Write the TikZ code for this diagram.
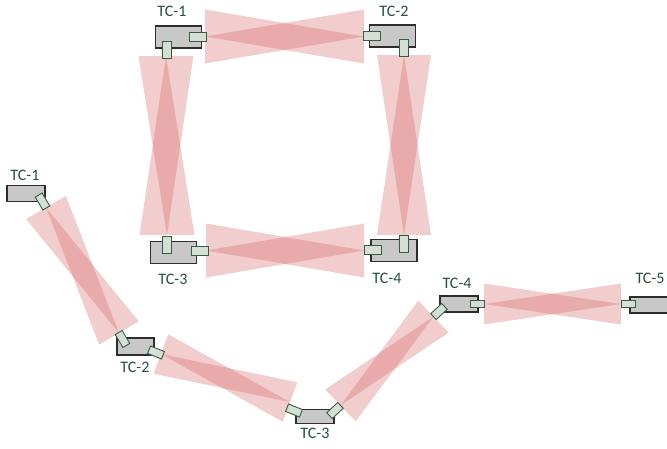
\documentclass[tikz,border=0pt]{standalone}
\usepackage{fontspec}
\setmainfont{Carlito}
\usetikzlibrary{calc}
\definecolor{beamc}{RGB}{210,90,90}
\definecolor{boxfill}{RGB}{200,200,200}
\definecolor{boxline}{RGB}{45,45,45}
\definecolor{tabfill}{RGB}{214,222,214}
\definecolor{tabline}{RGB}{50,95,65}
\definecolor{lblc}{RGB}{38,80,58}
\newcommand\beamlink[3]{%
 \fill[beam] (#1) -- ($(#2)!#3!90:(#1)$) -- ($(#2)!#3!-90:(#1)$) -- cycle;
 \fill[beam] (#2) -- ($(#1)!#3!90:(#2)$) -- ($(#1)!#3!-90:(#2)$) -- cycle;}
\begin{document}
\begin{tikzpicture}[x=1pt,y=-1pt,
  beam/.style={fill=beamc,fill opacity=0.3},
  dev/.style={draw=boxline,fill=boxfill,line width=1.1pt,inner sep=0pt,outer sep=0pt},
  tab/.style={draw=tabline,fill=tabfill,line width=0.9pt,inner sep=0pt,outer sep=0pt},
  htab/.style={tab,minimum width=17pt,minimum height=9pt},
  vtab/.style={tab,minimum width=9pt,minimum height=17pt},
  ctab/.style={tab,minimum width=15pt,minimum height=8pt},
  sqbox/.style={dev,minimum width=46pt,minimum height=22pt},
  chbox/.style={dev,minimum width=38pt,minimum height=16pt},
  lbl/.style={text=lblc,font=\fontsize{16}{18}\selectfont,inner sep=0pt}]
\useasboundingbox (0,0) rectangle (667,448);
% beam end points
\coordinate (a1) at (205,36.5);  \coordinate (b1) at (364,36.5);
\coordinate (a2) at (166,56);    \coordinate (b2) at (167,235);
\coordinate (a3) at (404,55);    \coordinate (b3) at (404,235);
\coordinate (a4) at (206,250.5); \coordinate (b4) at (364,250.5);
\coordinate (c1) at (46,207.5);  \coordinate (d1) at (119,333);
\coordinate (c2) at (161,354);   \coordinate (d2) at (290,402);
\coordinate (c3) at (340.5,405.4); \coordinate (d3) at (433.5,316.6);
\coordinate (c4) at (484,304);   \coordinate (d4) at (621,304);
% beams
\beamlink{a1}{b1}{27pt}
\beamlink{a2}{b2}{27.5pt}
\beamlink{a3}{b3}{27pt}
\beamlink{a4}{b4}{27pt}
\beamlink{c1}{d1}{23pt}
\beamlink{c2}{d2}{21pt}
\beamlink{c3}{d3}{22pt}
\beamlink{c4}{d4}{20.5pt}
% square devices
\node[sqbox] (s1) at (178.5,37) {};
\node[htab] (s1r) at (198,36.5) {};
\node[vtab] (s1b) at (166.5,50) {};
\node[lbl] (s1l) at (172,11) {TC-1};
\node[sqbox] (s2) at (392.5,36) {};
\node[htab] (s2l) at (372,36) {};
\node[vtab] (s2b) at (404,48) {};
\node[lbl] (s2lb) at (394,11) {TC-2};
\node[sqbox] (s3) at (173.5,252.5) {};
\node[vtab] (s3t) at (166.5,244.5) {};
\node[htab] (s3r) at (199.5,251) {};
\node[lbl] (s3l) at (173,279) {TC-3};
\node[sqbox] (s4) at (394,250.5) {};
\node[htab] (s4l) at (372.5,250) {};
\node[vtab] (s4t) at (404,243.5) {};
\node[lbl] (s4lb) at (387,278) {TC-4};
% chain devices
\node[chbox] (k1) at (26,193.5) {};
\node[ctab,rotate=-59.5] (k1t) at (42.5,201.5) {};
\node[lbl] (k1l) at (25,175) {TC-1};
\node[chbox,minimum width=37pt,minimum height=17pt] (k2) at (135.5,346.5) {};
\node[ctab,rotate=-59.5] (k2a) at (122.5,339) {};
\node[ctab,rotate=-22] (k2b) at (156,352.5) {};
\node[lbl] (k2l) at (135,367) {TC-2};
\node[chbox,minimum height=14pt] (k3) at (315,416.5) {};
\node[ctab,rotate=-22] (k3a) at (294,410.5) {};
\node[ctab,rotate=43] (k3b) at (335,410.5) {};
\node[lbl] (k3l) at (315,433) {TC-3};
\node[chbox] (k4) at (459,304) {};
\node[ctab,rotate=43] (k4a) at (439,311.5) {};
\node[ctab,minimum width=14pt,minimum height=7pt] (k4b) at (477.5,304) {};
\node[lbl] (k4l) at (457,283) {TC-4};
\node[chbox] (k5) at (649,305) {};
\node[ctab,minimum width=14pt,minimum height=7pt] (k5a) at (628,304) {};
\node[lbl] (k5l) at (650,278) {TC-5};
\end{tikzpicture}
\end{document}
